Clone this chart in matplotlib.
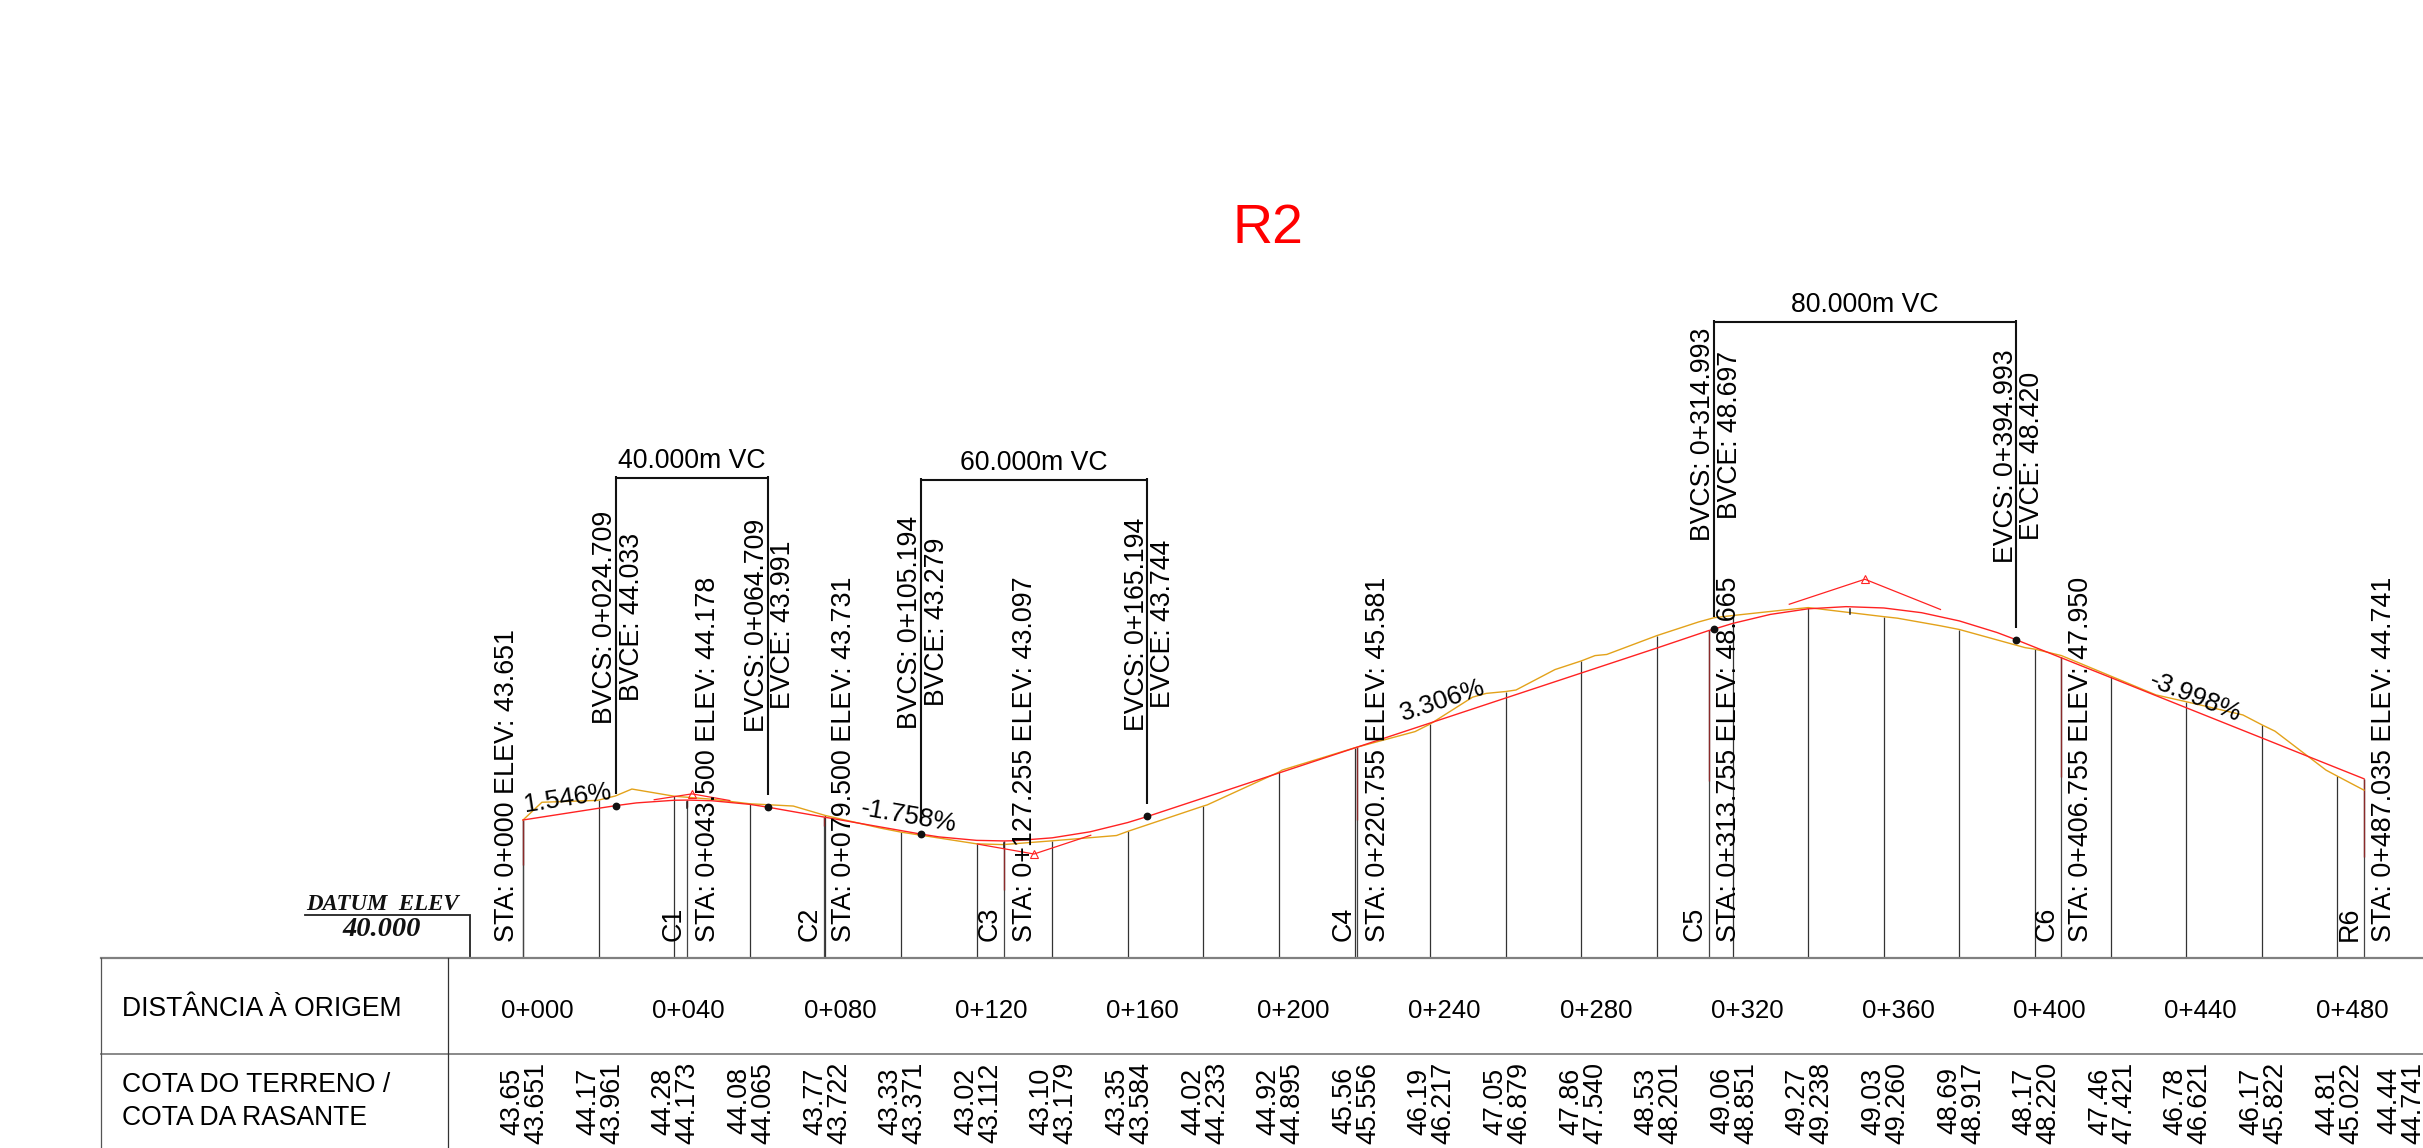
import matplotlib
matplotlib.use('Agg')
from matplotlib import pyplot as plt

plt.rcParams['font.family'] = ['Liberation Sans', 'DejaVu Sans']

# longitudinal profile, chainage in m and elevation in m
grade_x = [0, 20, 24.709, 30, 40, 43.5, 50, 60, 64.709, 79.5, 80, 100, 105.194, 110, 120, 127.255, 130, 140, 150, 160,
           165.194, 180, 200, 220, 220.755, 240, 260, 280, 300, 313.755, 314.993, 320, 330, 340, 350, 360, 370, 380,
           390, 394.993, 400, 406.755, 420, 440, 460, 480, 487.035]
grade_y = [43.651, 43.961, 44.033, 44.103, 44.173, 44.178, 44.16, 44.065, 43.991, 43.731, 43.722, 43.371, 43.279,
           43.204, 43.112, 43.097, 43.103, 43.179, 43.338, 43.584, 43.744, 44.233, 44.895, 45.556, 45.581, 46.217,
           46.879, 47.540, 48.201, 48.665, 48.697, 48.851, 49.09, 49.238, 49.295, 49.260, 49.135, 48.917, 48.609,
           48.420, 48.220, 47.950, 47.421, 46.621, 45.822, 45.022, 44.741]
ground_x = [0, 5, 19.7, 24.4, 28.8, 40, 50, 60, 71.5, 80, 94.4, 100, 120, 127, 140, 157, 160, 180, 181, 200, 200.8,
            220, 236, 240, 251.2, 254.8, 260, 262.7, 273, 280, 283.6, 286.7, 300, 311, 315, 320, 333, 340, 360, 363.6,
            374.9, 380, 397.4, 400, 407, 420, 432, 440, 455, 460, 463.5, 477, 480, 487.035]
ground_y = [43.65, 44.12, 44.17, 44.285, 44.47, 44.28, 44.2, 44.08, 44.02, 43.77, 43.44, 43.33, 43.02, 43.0, 43.10,
            43.24, 43.35, 44.02, 44.05, 44.92, 44.97, 45.56, 45.99, 46.19, 46.9, 47.0, 47.05, 47.09, 47.63, 47.86,
            48.0, 48.03, 48.53, 48.89, 49.0, 49.06, 49.2, 49.27, 49.03, 48.99, 48.79, 48.69, 48.21, 48.17, 48.0,
            47.46, 46.96, 46.78, 46.43, 46.17, 46.0, 44.97, 44.81, 44.44]

# table stations
stations = list(range(0, 481, 20))
terrain = ['43.65', '44.17', '44.28', '44.08', '43.77', '43.33', '43.02', '43.10', '43.35', '44.02', '44.92', '45.56',
           '46.19', '47.05', '47.86', '48.53', '49.06', '49.27', '49.03', '48.69', '48.17', '47.46', '46.78', '46.17',
           '44.81', '44.44']
rasante = ['43.651', '43.961', '44.173', '44.065', '43.722', '43.371', '43.112', '43.179', '43.584', '44.233', '44.895',
           '45.556', '46.217', '46.879', '47.540', '48.201', '48.851', '49.238', '49.260', '48.917', '48.220', '47.421',
           '46.621', '45.822', '45.022', '44.741']
ground_at_station = [float(v) for v in terrain[:-1]]
dist_labels = ['0+000', '0+040', '0+080', '0+120', '0+160', '0+200', '0+240', '0+280', '0+320', '0+360', '0+400',
               '0+440', '0+480']

# curve and tangent points
sta_x = [0, 43.5, 79.5, 127.255, 220.755, 313.755, 406.755, 487.035]
sta_elev = [43.651, 44.178, 43.731, 43.097, 45.581, 48.665, 47.950, 44.741]
sta_text = ['0+000', '0+043.500', '0+079.500', '0+127.255', '0+220.755', '0+313.755', '0+406.755', '0+487.035']
sta_red_to = [42.46, 44.0, 43.5, 41.8, 43.65, 44.68, 44.79, 42.67]
names = ['', 'C1', 'C2', 'C3', 'C4', 'C5', 'C6', 'R6']

bvc_x = [24.709, 105.194, 314.993]
bvc_e = [44.033, 43.279, 48.697]
bvc_s = ['0+024.709', '0+105.194', '0+314.993']
evc_x = [64.709, 165.194, 394.993]
evc_e = [43.991, 43.744, 48.420]
evc_s = ['0+064.709', '0+165.194', '0+394.993']
vc_len = ['40.000m VC', '60.000m VC', '80.000m VC']
vc_top = [477.7, 480, 322]
bvc_mid = [617, 622, 434.5]
evc_mid = [625, 624, 456]

pvi_x = [44.709, 135.194, 354.993]
pvi_e = [44.342, 42.751, 50.02]
tan_back = [0.01546, -0.01758, 0.03306]
tan_ahead = [-0.01758, 0.03306, -0.03998]
high_x = [43.5, 127.255, 351]
high_e = [44.178, 43.097, 49.29]

slope_text = ['1.546%', '-1.758%', '3.306%', '-3.998%']
slope_rot = [8.8, -10, 18.3, -21.8]
slope_pos = [(567, 798), (909, 817), (1443, 701), (2195, 697)]

W, H = 2423, 1148
X0, KX = 523, 3.78
Y0, KY = 958, 37.8
RED = '#ff2222'
YEL = '#e3a21a'
GREY = '#808080'
FS = 19.2
ROT = 2.5  # rotated boxes carry the descent on the right


def sx(s):
    return X0 + KX * s


fig = plt.figure(figsize=(W / 100, H / 100), dpi=100)
ax = fig.add_axes([0, 0, 1, 1])
ax.set_xlim(-X0 / KX, (W - X0) / KX)
ax.set_ylim(40 - (H - Y0) / KY, 40 + Y0 / KY)
ax.axis('off')
# second axes in picture pixels for table and label layout
tb = fig.add_axes([0, 0, 1, 1])
tb.set_xlim(0, W)
tb.set_ylim(H, 0)
tb.axis('off')
tb.patch.set_alpha(0)

# station lines up to ground
for s, g in zip(stations, ground_at_station):
    ax.plot([s, s], [40, g], color='#333333', lw=0.9, solid_capstyle='butt', zorder=1)
for s, e, r in zip(sta_x, sta_elev, sta_red_to):
    ax.plot([s, s], [40, e], color='#444444', lw=0.9, solid_capstyle='butt', zorder=1)
    ax.plot([s, s], [r, e], color='#8a2a2a', lw=1.0, solid_capstyle='butt', zorder=2)

ax.plot(ground_x, ground_y, color=YEL, lw=1.0, zorder=3)
ax.plot(grade_x, grade_y, color=RED, lw=1.0, zorder=4)

# tangents at the vertices, a quarter of the curve length each way
for i in range(3):
    q = (evc_x[i] - bvc_x[i]) / 4
    ax.plot([pvi_x[i] - q, pvi_x[i], pvi_x[i] + q],
            [pvi_e[i] - q * tan_back[i], pvi_e[i], pvi_e[i] + q * tan_ahead[i]], color=RED, lw=0.9, zorder=4)
ax.plot(pvi_x, pvi_e, ls='none', marker='^', ms=6, mfc='none', mec=RED, mew=0.8, zorder=5)
ax.plot(bvc_x + evc_x, bvc_e + evc_e, ls='none', marker='o', ms=4.6, color='#111111', zorder=6)
for s, e in zip(high_x, high_e):
    ax.plot([s, s], [e - 0.06, e - 0.2], color='#222222', lw=1.1, zorder=3)

# vertical curve brackets
for i in range(3):
    a, b = bvc_x[i], evc_x[i]
    tb.plot([sx(a), sx(a)], [Y0 - KY * (bvc_e[i] - 40) - 12, vc_top[i] - 2], color='#111111', lw=1.5, solid_capstyle='butt')
    tb.plot([sx(b), sx(b)], [Y0 - KY * (evc_e[i] - 40) - 12, vc_top[i] - 2], color='#111111', lw=1.5, solid_capstyle='butt')
    tb.plot([sx(a), sx(b)], [vc_top[i], vc_top[i]], color='#111111', lw=1.5, solid_capstyle='butt')
    tb.text((sx(a) + sx(b)) / 2, vc_top[i] - 9.5, vc_len[i], ha='center', va='baseline', fontsize=FS)
    tb.text(sx(a) - 13.5 + ROT, bvc_mid[i], 'BVCS: ' + bvc_s[i], rotation=90, ha='center', va='center', fontsize=FS)
    tb.text(sx(a) + 13.5 + ROT, bvc_mid[i], 'BVCE: %.3f' % bvc_e[i], rotation=90, ha='center', va='center', fontsize=FS)
    tb.text(sx(b) - 13 + ROT, evc_mid[i], 'EVCS: ' + evc_s[i], rotation=90, ha='center', va='center', fontsize=FS)
    tb.text(sx(b) + 13 + ROT, evc_mid[i], 'EVCE: %.3f' % evc_e[i], rotation=90, ha='center', va='center', fontsize=FS)

# station labels
for i, s in enumerate(sta_x):
    off = -19 if i == 0 else 18
    tb.text(sx(s) + off + ROT, 942, 'STA: %s ELEV: %.3f' % (sta_text[i], sta_elev[i]), rotation=90, ha='center',
            va='bottom', fontsize=19.4)
    if names[i]:
        tb.text(sx(s) - 16.5 + ROT, 941, names[i], rotation=90, ha='center', va='bottom', fontsize=19.4)

for t, r, p in zip(slope_text, slope_rot, slope_pos):
    tb.text(p[0], p[1], t, rotation=r, ha='center', va='center', fontsize=18.7, rotation_mode='anchor')

tb.text(1268, 229, 'R2', color='#ff0000', ha='center', va='center', fontsize=40)

# datum
tb.text(382, 910, 'DATUM  ELEV', family='Liberation Serif', style='italic', weight='bold', ha='center', va='baseline',
        fontsize=16.5, color='#111111')
tb.text(382, 936, '40.000', family='Liberation Serif', style='italic', weight='bold', ha='center', va='baseline',
        fontsize=20.5, color='#111111')
tb.plot([305, 470, 470], [915, 915, Y0], color='#222222', lw=1.3, solid_joinstyle='miter')

# table
tb.plot([101, W], [Y0, Y0], color=GREY, lw=1.6)
tb.plot([101, W], [1054, 1054], color=GREY, lw=1.3)
tb.plot([101, 101], [Y0, H], color='#555555', lw=0.9)
tb.plot([448, 448], [Y0, H], color='#333333', lw=0.9)
tb.text(122, 1009.5, 'DISTÂNCIA À ORIGEM', ha='left', va='center', fontsize=19.1)
tb.text(122, 1085, 'COTA DO TERRENO /', ha='left', va='center', fontsize=19.1)
tb.text(122, 1118, 'COTA DA RASANTE', ha='left', va='center', fontsize=19.1)

for i, t in enumerate(dist_labels):
    tb.text(sx(40 * i) + 14.5, 1010.5, t, ha='center', va='center', fontsize=18.6)

table_x = stations + [496.4]
for s, a, b in zip(table_x, terrain, rasante):
    tb.text(sx(s) - 10.5, 1101, a, rotation=90, ha='center', va='center', fontsize=19.4)
    tb.text(sx(s) + 13.5, 1103, b, rotation=90, ha='center', va='center', fontsize=19.4)

fig.savefig('out.png', dpi=100)
